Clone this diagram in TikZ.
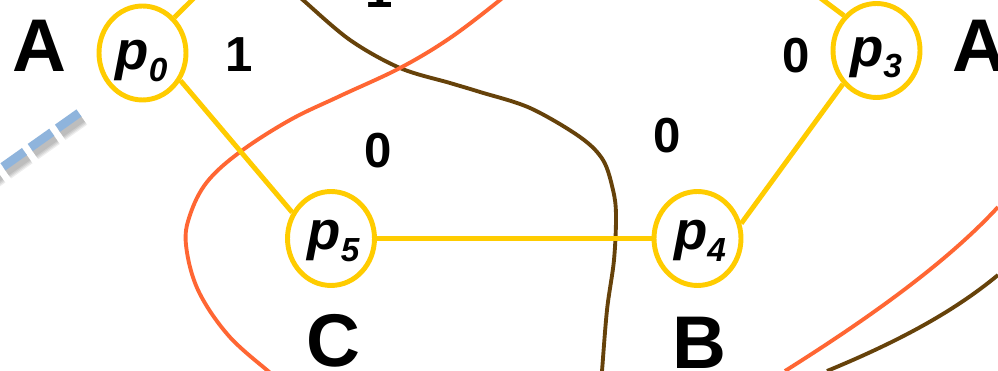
\documentclass[tikz,border=0pt]{standalone}
\usepackage{fontspec}
\setmainfont{Liberation Sans}
\usetikzlibrary{shapes.geometric}
\definecolor{nodeyellow}{HTML}{FFCC00}
\definecolor{curveorange}{HTML}{FF6633}
\definecolor{curvebrown}{HTML}{66420A}
\definecolor{dashblue}{HTML}{8FB4DC}
\newcommand\psub[2]{#1\raisebox{-6.5pt}{\fontsize{19}{19}\selectfont #2}}
\begin{document}
\begin{tikzpicture}[x=0.02cm,y=-0.02cm,
 pnode/.style={draw=nodeyellow, line width=2.8pt, ellipse, minimum width=1.74cm, minimum height=1.88cm, inner sep=0pt},
 edgeline/.style={draw=nodeyellow, line width=2.8pt},
 cutline/.style={line width=2.2pt},
 dashshadow/.style={black, opacity=0.07, dash pattern=on 15pt off 4pt},
 big/.style={font=\fontsize{42.5}{42.5}\selectfont\bfseries, inner sep=0pt, anchor=base},
 num/.style={font=\fontsize{28}{28}\selectfont\bfseries, inner sep=0pt, anchor=base},
 plabel/.style={font=\fontsize{31}{31}\selectfont\bfseries\itshape, inner sep=0pt, anchor=base},
]
\useasboundingbox (0,0) rectangle (998,371);
\clip (0,0) rectangle (998,371);
\fill[white] (0,0) rectangle (998,371);

% blue dashed line with soft shadow
\coordinate (bt) at (79,113);
\coordinate (bb) at (-10,176);
\coordinate (st) at (83,119);
\coordinate (sb) at (-6,182);
\draw[dashshadow, line width=8pt] (st) -- (sb);
\draw[dashshadow, line width=6.5pt] (st) -- (sb);
\draw[dashshadow, line width=5pt] (st) -- (sb);
\draw[dashshadow, line width=3.5pt] (st) -- (sb);
\draw[dashblue, line width=5pt, dash pattern=on 15pt off 4pt] (bt) -- (bb);

% curves
\draw[cutline, curvebrown] plot[smooth, tension=0.55] coordinates {(292,-10) (303,0) (350,40) (400,68) (450,83) (480,92) (530,108) (580,137) (603,160) (613,190) (616,215) (614,260) (607,310) (602,371) (601,380)};
\draw[cutline, curveorange] plot[smooth, tension=0.6] coordinates {(510,-10) (500,0) (450,38) (400,68) (340,96) (290,120) (240,152) (207,182) (190,215) (186,245) (198,290) (228,335) (268,371) (280,380)};
\draw[cutline, curveorange] (785,371) .. controls (850,330) and (940,270) .. (998,207);
\draw[cutline, curvebrown] (827,371) .. controls (890,345) and (950,315) .. (998,275);

% nodes
\node[pnode] (p0) at (142.5,53) {};
\node[pnode] (p5) at (331,238.5) {};
\node[pnode] (p4) at (697.5,238.5) {};
\node[pnode] (p3) at (876.5,50.5) {};

\coordinate (e0) at (198,-6);
\coordinate (e3) at (815,-6);
\draw[edgeline] (p0.48.5) -- (e0);
\draw[edgeline] (p0.-36.5) -- (p5.146.5);
\draw[edgeline] (p5.east) -- (p4.west);
\draw[edgeline] (p4.19) -- (p3.225);
\draw[edgeline] (p3.133.3) -- (e3);

% node labels
\node[plabel] (t0) at (141.5,70) {\psub{p}{0}};
\node[plabel] (t5) at (333.5,250) {\psub{p}{5}};
\node[plabel] (t4) at (700,250) {\psub{p}{4}};
\node[plabel] (t3) at (876,66.5) {\psub{p}{3}};

% letters
\node[big] (Aleft) at (39,72) {A};
\node[big, anchor=base west] (Aright) at (952,72) {A};
\node[big] (Cl) at (333,367) {C};
\node[big] (Bl) at (699,369) {B};

% weights
\node[num] (w1) at (239,72) {1};
\node[num] (w1top) at (379.5,8) {1};
\node[num] (w05) at (378,168) {0};
\node[num] (w54) at (667,153) {0};
\node[num] (w43) at (796,73) {0};
\end{tikzpicture}
\end{document}
